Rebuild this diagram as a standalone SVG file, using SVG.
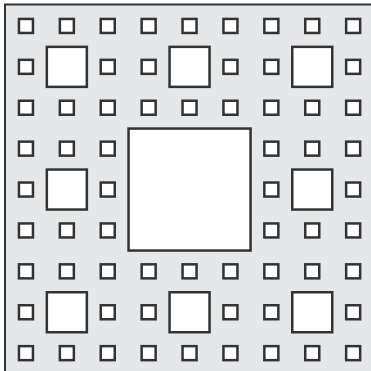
<svg xmlns="http://www.w3.org/2000/svg" width="371" height="371" viewBox="0 0 371 371">
<style>
.s{fill:#fff;stroke:#333;stroke-width:2.5}
</style>
<defs>
<rect id="sm" class="s" width="14" height="14"/>
<rect id="md" class="s" width="40" height="40"/>
</defs>
<rect width="371" height="371" fill="#fff"/>
<rect x="5" y="4.5" width="380" height="380" fill="#e6e7e9" stroke="#333" stroke-width="2"/>
<g id="big"><rect class="s" x="128.55" y="128.55" width="122" height="122"/></g>
<g id="medium">
<use href="#md" x="46.85" y="46.85"/><use href="#md" x="169.55" y="46.85"/><use href="#md" x="292.25" y="46.85"/>
<use href="#md" x="46.85" y="169.55"/><use href="#md" x="292.25" y="169.55"/>
<use href="#md" x="46.85" y="292.25"/><use href="#md" x="169.55" y="292.25"/><use href="#md" x="292.25" y="292.25"/>
</g>
<g id="small">
<use href="#sm" x="18.95" y="18.95"/><use href="#sm" x="59.85" y="18.95"/><use href="#sm" x="100.75" y="18.95"/><use href="#sm" x="141.65" y="18.95"/><use href="#sm" x="182.55" y="18.95"/><use href="#sm" x="223.45" y="18.95"/><use href="#sm" x="264.35" y="18.95"/><use href="#sm" x="305.25" y="18.95"/><use href="#sm" x="346.15" y="18.95"/>
<use href="#sm" x="18.95" y="59.85"/><use href="#sm" x="100.75" y="59.85"/><use href="#sm" x="141.65" y="59.85"/><use href="#sm" x="223.45" y="59.85"/><use href="#sm" x="264.35" y="59.85"/><use href="#sm" x="346.15" y="59.85"/>
<use href="#sm" x="18.95" y="100.75"/><use href="#sm" x="59.85" y="100.75"/><use href="#sm" x="100.75" y="100.75"/><use href="#sm" x="141.65" y="100.75"/><use href="#sm" x="182.55" y="100.75"/><use href="#sm" x="223.45" y="100.75"/><use href="#sm" x="264.35" y="100.75"/><use href="#sm" x="305.25" y="100.75"/><use href="#sm" x="346.15" y="100.75"/>
<use href="#sm" x="18.95" y="141.65"/><use href="#sm" x="59.85" y="141.65"/><use href="#sm" x="100.75" y="141.65"/><use href="#sm" x="264.35" y="141.65"/><use href="#sm" x="305.25" y="141.65"/><use href="#sm" x="346.15" y="141.65"/>
<use href="#sm" x="18.95" y="182.55"/><use href="#sm" x="100.75" y="182.55"/><use href="#sm" x="264.35" y="182.55"/><use href="#sm" x="346.15" y="182.55"/>
<use href="#sm" x="18.95" y="223.45"/><use href="#sm" x="59.85" y="223.45"/><use href="#sm" x="100.75" y="223.45"/><use href="#sm" x="264.35" y="223.45"/><use href="#sm" x="305.25" y="223.45"/><use href="#sm" x="346.15" y="223.45"/>
<use href="#sm" x="18.95" y="264.35"/><use href="#sm" x="59.85" y="264.35"/><use href="#sm" x="100.75" y="264.35"/><use href="#sm" x="141.65" y="264.35"/><use href="#sm" x="182.55" y="264.35"/><use href="#sm" x="223.45" y="264.35"/><use href="#sm" x="264.35" y="264.35"/><use href="#sm" x="305.25" y="264.35"/><use href="#sm" x="346.15" y="264.35"/>
<use href="#sm" x="18.95" y="305.25"/><use href="#sm" x="100.75" y="305.25"/><use href="#sm" x="141.65" y="305.25"/><use href="#sm" x="223.45" y="305.25"/><use href="#sm" x="264.35" y="305.25"/><use href="#sm" x="346.15" y="305.25"/>
<use href="#sm" x="18.95" y="346.15"/><use href="#sm" x="59.85" y="346.15"/><use href="#sm" x="100.75" y="346.15"/><use href="#sm" x="141.65" y="346.15"/><use href="#sm" x="182.55" y="346.15"/><use href="#sm" x="223.45" y="346.15"/><use href="#sm" x="264.35" y="346.15"/><use href="#sm" x="305.25" y="346.15"/><use href="#sm" x="346.15" y="346.15"/>
</g>
</svg>
